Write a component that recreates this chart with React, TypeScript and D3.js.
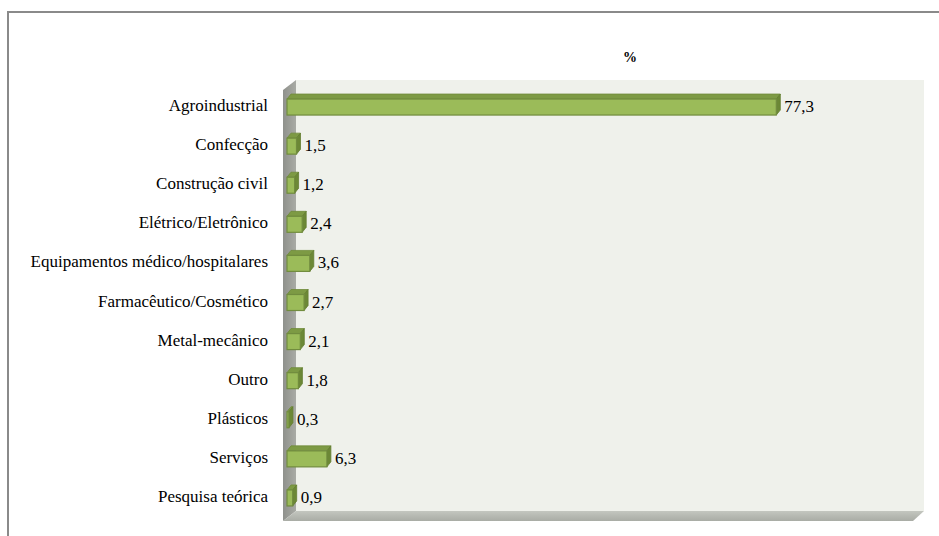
import React from "react";
import * as d3 from "d3";

const categories = [
  "Agroindustrial",
  "Confecção",
  "Construção civil",
  "Elétrico/Eletrônico",
  "Equipamentos médico/hospitalares",
  "Farmacêutico/Cosmético",
  "Metal-mecânico",
  "Outro",
  "Plásticos",
  "Serviços",
  "Pesquisa teórica",
];
const values = [77.3, 1.5, 1.2, 2.4, 3.6, 2.7, 2.1, 1.8, 0.3, 6.3, 0.9];
const seriesName = "%";

const W = 939;
const H = 536;
const FONT = "Liberation Serif, Times New Roman, DejaVu Serif, serif";

export default function App() {
  const x = d3.scaleLinear().domain([0, 100]).range([287, 920]);
  const y = d3.scaleBand<string>().domain(categories).range([87.5, 517.5]);
  const barH = 16;
  const dx = 4;
  const dy = 5;
  const fmt = (v: number) => d3.format(".1f")(v).replace(".", ",");

  const wallL = 296, wallR = 924, wallT = 80, floorT = 511, floorB = 521, frontL = 283, frontR = 913;
  const ts = { fontFamily: FONT };

  return (
    <svg width={W} height={H} style={{ position: "absolute", left: 0, top: 0, fontFamily: FONT }}>
      <defs>
        <linearGradient id="lw" x1="0" x2="1" y1="0" y2="0">
          <stop offset="0" stopColor="#8f918c" />
          <stop offset="1" stopColor="#a9aba5" />
        </linearGradient>
        <linearGradient id="fl" x1="0" x2="0" y1="0" y2="1">
          <stop offset="0" stopColor="#c3c6bf" />
          <stop offset="1" stopColor="#a9aca5" />
        </linearGradient>
      </defs>
      <rect x={0} y={0} width={W} height={H} fill="#ffffff" />
      <path d={`M8,${H + 2} L8,12 L${W + 2},12`} fill="none" stroke="#8a8a8a" strokeWidth={2} />
      <text x={630} y={62} textAnchor="middle" fontSize={14} fontWeight="bold" style={ts}>{seriesName}</text>
      {/* back wall */}
      <rect x={wallL} y={wallT} width={wallR - wallL} height={floorT - wallT} fill="#eff1eb" />
      {/* left wall */}
      <polygon points={`${frontL},${wallT + 10} ${wallL},${wallT} ${wallL},${floorT} ${frontL},${floorB}`} fill="url(#lw)" />
      {/* floor */}
      <polygon points={`${frontL},${floorB} ${wallL},${floorT} ${wallR},${floorT} ${frontR},${floorB}`} fill="url(#fl)" />
      {categories.map((c, i) => {
        const v = values[i];
        const cy = (y(c) as number) + y.bandwidth() / 2;
        const y0 = cy - barH / 2;
        const y1 = cy + barH / 2;
        const x0 = x(0);
        const x1 = x(v);
        return (
          <g key={c}>
            <polygon points={`${x0},${y0} ${x0 + dx},${y0 - dy} ${x1 + dx},${y0 - dy} ${x1},${y0}`} fill="#7d9a44" stroke="#6e8a38" strokeWidth={0.8} />
            <polygon points={`${x1},${y0} ${x1 + dx},${y0 - dy} ${x1 + dx},${y1 - dy} ${x1},${y1}`} fill="#6c8836" stroke="#637d31" strokeWidth={0.8} />
            <rect x={x0} y={y0} width={Math.max(x1 - x0, 0.5)} height={barH} fill="#9bbb59" stroke="#718c3e" strokeWidth={1.2} />
            <text x={x1 + dx + 4} y={cy + 5} fontSize={17} fill="#000" style={ts}>{fmt(v)}</text>
            <text x={268} y={cy + 4} fontSize={17} textAnchor="end" fill="#000" style={ts}>{c}</text>
          </g>
        );
      })}
    </svg>
  );
}
